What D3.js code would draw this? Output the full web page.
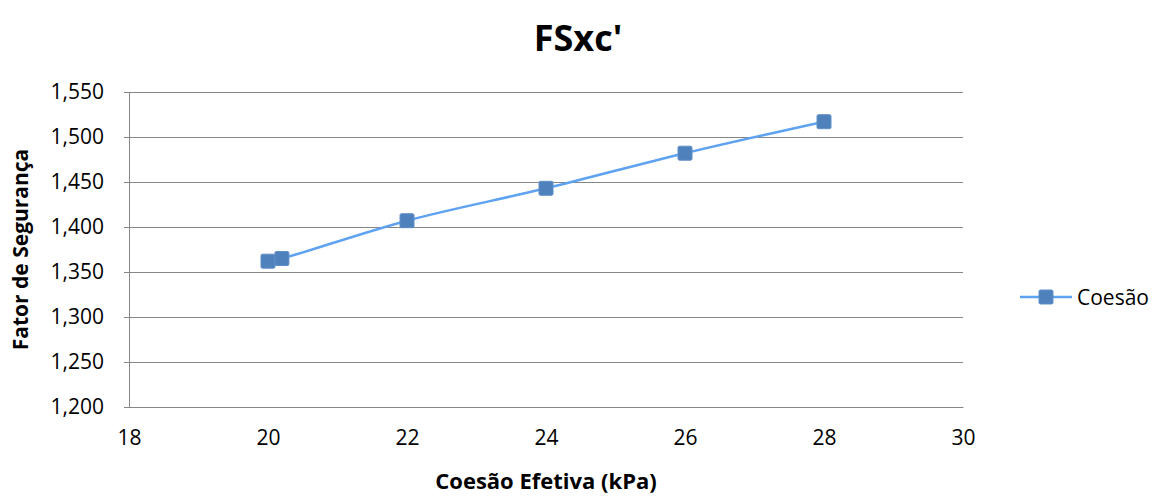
<!DOCTYPE html>
<html>
<head>
<meta charset="utf-8">
<script src="https://cdn.jsdelivr.net/npm/d3@7"></script>
<style>
  html, body { margin: 0; padding: 0; background: #fff; }
  svg { display: block; font-family: "Open Sans", "Noto Sans", sans-serif; }
</style>
</head>
<body>
<svg id="chart" width="1158" height="497"></svg>
<script>
// Coesão efetiva (kPa) vs fator de segurança
const coesao = [20, 20.2, 22, 24, 26, 28];
const fatorSeguranca = [1.362, 1.365, 1.407, 1.443, 1.482, 1.517];
const xTicks = [18, 20, 22, 24, 26, 28, 30];
const yTicks = [1.200, 1.250, 1.300, 1.350, 1.400, 1.450, 1.500, 1.550];
const seriesName = "Coesão";

const svg = d3.select("#chart");
const m = { left: 129, right: 963, top: 92, bottom: 407 };

const x = d3.scaleLinear().domain([18, 30]).range([m.left, m.right]);
const y = d3.scaleLinear().domain([1.2, 1.55]).range([m.bottom, m.top]);

const fmt = v => d3.format(",.3f")(v).replace(".", ",");

// horizontal gridlines with small outward ticks
const yAxis = d3.axisLeft(y).tickValues(yTicks).tickSize(-(m.right - m.left)).tickPadding(25).tickFormat(fmt);
const gy = svg.append("g").attr("transform", `translate(${m.left},0)`).call(yAxis);
gy.select(".domain").remove();
gy.selectAll(".tick line").attr("stroke", "#868686").attr("stroke-width", 1).attr("x1", -5);
gy.selectAll(".tick text").attr("font-size", 21).attr("fill", "#000")
  .attr("font-family", "'Open Sans', sans-serif");

// left axis line
svg.append("line").attr("x1", m.left + 0.5).attr("x2", m.left + 0.5)
  .attr("y1", m.top).attr("y2", m.bottom).attr("stroke", "#868686");

const xAxis = d3.axisBottom(x).tickValues(xTicks).tickSize(0).tickPadding(23).tickFormat(d3.format("d"));
const gx = svg.append("g").attr("transform", `translate(0,${m.bottom})`).call(xAxis);
gx.select(".domain").attr("stroke", "#868686");
gx.selectAll(".tick text").attr("font-size", 21).attr("fill", "#000")
  .attr("font-family", "'Open Sans', sans-serif");

// series
const pts = coesao.map((c, i) => [c, fatorSeguranca[i]]);
const line = d3.line().x(d => x(d[0])).y(d => y(d[1])).curve(d3.curveCatmullRom.alpha(0.5));
svg.append("path").datum(pts).attr("d", line)
  .attr("fill", "none").attr("stroke", "#5ea2f2").attr("stroke-width", 2.5);

const s = 14;
svg.append("g").selectAll("rect").data(pts).join("rect")
  .attr("x", d => x(d[0]) - s / 2).attr("y", d => y(d[1]) - s / 2)
  .attr("width", s).attr("height", s).attr("rx", 1.5)
  .attr("fill", "#4f81bd").attr("stroke", "#5f8fc8").attr("stroke-width", 1);

// title
svg.append("text").attr("x", 578).attr("y", 51).attr("text-anchor", "middle")
  .attr("font-size", 36).attr("font-weight", "bold").attr("fill", "#000").text("FSxc'");

// axis titles
svg.append("text").attr("x", (m.left + m.right) / 2).attr("y", 489).attr("text-anchor", "middle")
  .attr("font-size", 22).attr("font-weight", "bold").text("Coesão Efetiva (kPa)");
svg.append("text").attr("transform", `translate(28,${(m.top + m.bottom) / 2}) rotate(-90)`)
  .attr("text-anchor", "middle").attr("font-size", 21).attr("font-weight", "bold").text("Fator de Segurança");

// legend
const lg = svg.append("g").attr("transform", "translate(1020,297)");
lg.append("line").attr("x1", 0).attr("x2", 52).attr("stroke", "#5ea2f2").attr("stroke-width", 2.5);
lg.append("rect").attr("x", 26 - 7).attr("y", -7).attr("width", 14).attr("height", 14).attr("rx", 1.5)
  .attr("fill", "#4f81bd").attr("stroke", "#5f8fc8");
lg.append("text").attr("x", 57).attr("y", 8).attr("font-size", 21).text(seriesName);
</script>
</body>
</html>
